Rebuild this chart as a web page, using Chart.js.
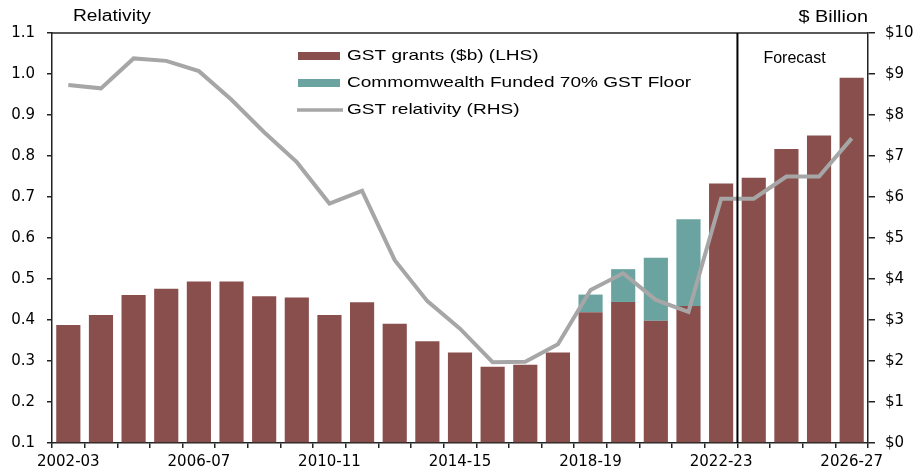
<!DOCTYPE html>
<html>
<head>
<meta charset="utf-8">
<script src="https://cdn.jsdelivr.net/npm/chart.js@4"></script>
<style>
  html, body { margin: 0; padding: 0; background: #fff; }
  canvas { display: block; }
</style>
</head>
<body>
<canvas id="chart" width="917" height="468"></canvas>
<script>
const years = [
  "2002-03", "2003-04", "2004-05", "2005-06", "2006-07", "2007-08", "2008-09",
  "2009-10", "2010-11", "2011-12", "2012-13", "2013-14", "2014-15", "2015-16",
  "2016-17", "2017-18", "2018-19", "2019-20", "2020-21", "2021-22", "2022-23",
  "2023-24", "2024-25", "2025-26", "2026-27",
];
const shownYears = ["2002-03", "2006-07", "2010-11", "2014-15", "2018-19", "2022-23", "2026-27"];
const forecastFrom = "2023-24";

// $ billion
const gstGrants = [
  2.88, 3.12, 3.61, 3.76, 3.94, 3.94, 3.58, 3.55, 3.12, 3.43, 2.91, 2.48, 2.21,
  1.86, 1.91, 2.21, 3.19, 3.44, 2.98, 3.34, 6.33, 6.47, 7.17, 7.50, 8.91,
];
const gstFloor = [
  0, 0, 0, 0, 0, 0, 0, 0, 0, 0, 0, 0, 0,
  0, 0, 0, 0.43, 0.80, 1.54, 2.12, 0, 0, 0, 0, 0,
];
// relativity
const relativity = [
  0.973, 0.965, 1.038, 1.032, 1.007, 0.937, 0.858, 0.785, 0.684, 0.715, 0.546, 0.446, 0.379,
  0.297, 0.298, 0.341, 0.473, 0.514, 0.449, 0.420, 0.696, 0.696, 0.750, 0.750, 0.843,
];

const MAROON = "#894f4d";
const TEAL = "#6aa3a0";
const GREY = "#a6a6a6";
const AXIS = "#222";
const TEXT_FONT = "'Liberation Sans', Arial, sans-serif";

Chart.defaults.font.family = "'DejaVu Sans', sans-serif";
Chart.defaults.font.size = 15;
Chart.defaults.color = "#000";

function stretchText(ctx, text, x, y, sx, align) {
  ctx.save();
  ctx.translate(x, y);
  ctx.scale(sx, 1);
  ctx.textAlign = align;
  ctx.textBaseline = "middle";
  ctx.fillText(text, 0, 0);
  ctx.restore();
}

const overlay = {
  id: "overlay",
  afterDraw(chart) {
    const { ctx, chartArea: a, scales } = chart;
    const x = scales.x;
    ctx.save();

    // frame top
    ctx.strokeStyle = AXIS;
    ctx.lineWidth = 1.5;
    ctx.beginPath();
    ctx.moveTo(a.left, a.top);
    ctx.lineTo(a.right, a.top);
    ctx.stroke();

    // forecast divider
    const i = years.indexOf(forecastFrom);
    const fx = (x.getPixelForTick(i - 1) + x.getPixelForTick(i)) / 2;
    ctx.strokeStyle = "#000";
    ctx.lineWidth = 2;
    ctx.beginPath();
    ctx.moveTo(fx, a.top);
    ctx.lineTo(fx, a.bottom);
    ctx.stroke();

    ctx.fillStyle = "#000";
    ctx.font = "16px " + TEXT_FONT;
    ctx.textAlign = "left";
    ctx.textBaseline = "middle";
    ctx.fillText("Forecast", fx + 26, 59);

    // axis titles
    stretchText(ctx, "Relativity", 73, 17, 1.2, "left");
    stretchText(ctx, "$ Billion", a.right, 18, 1.24, "right");

    // legend
    ctx.font = "15px " + TEXT_FONT;
    const items = [
      { label: chart.data.datasets[1].label, color: MAROON, kind: "box" },
      { label: chart.data.datasets[2].label, color: TEAL, kind: "box" },
      { label: chart.data.datasets[0].label, color: GREY, kind: "line" },
    ];
    items.forEach((it, k) => {
      const y = 56 + k * 27;
      if (it.kind === "box") {
        ctx.fillStyle = it.color;
        ctx.fillRect(298, y - 4, 42, 8);
      } else {
        ctx.strokeStyle = it.color;
        ctx.lineWidth = 3.5;
        ctx.beginPath();
        ctx.moveTo(297, y);
        ctx.lineTo(343, y);
        ctx.stroke();
      }
      ctx.fillStyle = "#000";
      stretchText(ctx, it.label, 347, y, 1.27, "left");
    });

    ctx.restore();
  },
};

new Chart(document.getElementById("chart"), {
  type: "bar",
  data: {
    labels: years,
    datasets: [
      {
        type: "line",
        label: "GST relativity (RHS)",
        data: relativity,
        yAxisID: "y",
        borderColor: GREY,
        borderWidth: 4,
        pointRadius: 0,
        tension: 0,
        order: 0,
      },
      {
        label: "GST grants ($b) (LHS)",
        data: gstGrants,
        yAxisID: "y1",
        backgroundColor: MAROON,
        barPercentage: 0.74,
        categoryPercentage: 1,
        order: 1,
      },
      {
        label: "Commomwealth Funded 70% GST Floor",
        data: gstFloor,
        yAxisID: "y1",
        backgroundColor: TEAL,
        barPercentage: 0.74,
        categoryPercentage: 1,
        order: 1,
      },
    ],
  },
  options: {
    responsive: false,
    animation: false,
    layout: { padding: { top: 33, left: 0, right: 0, bottom: 0 } },
    plugins: { legend: { display: false }, tooltip: { enabled: false } },
    scales: {
      x: {
        stacked: true,
        offset: true,
        grid: { drawOnChartArea: false, offset: true, tickLength: 5, color: AXIS, lineWidth: 1.5 },
        border: { color: AXIS, width: 1.5 },
        ticks: {
          autoSkip: false,
          maxRotation: 0,
          padding: 5,
          callback: (v, i) => (shownYears.includes(years[i]) ? years[i] : ""),
        },
        afterFit: (s) => { s.height = 25; },
      },
      y: {
        position: "left",
        min: 0.1,
        max: 1.1,
        grid: { drawOnChartArea: false, tickLength: 5, color: AXIS, lineWidth: 1.5 },
        border: { color: AXIS, width: 1.5 },
        ticks: { stepSize: 0.1, padding: 12, callback: (v) => v.toFixed(1) },
        afterFit: (s) => { s.width = 52; },
      },
      y1: {
        position: "right",
        stacked: true,
        min: 0,
        max: 10,
        grid: { drawOnChartArea: false, tickLength: 7, color: AXIS, lineWidth: 1.5 },
        border: { color: AXIS, width: 1.5 },
        ticks: { stepSize: 1, padding: 10, callback: (v) => "$" + v },
        afterFit: (s) => { s.width = 49; },
      },
    },
  },
  plugins: [overlay],
});
</script>
</body>
</html>
